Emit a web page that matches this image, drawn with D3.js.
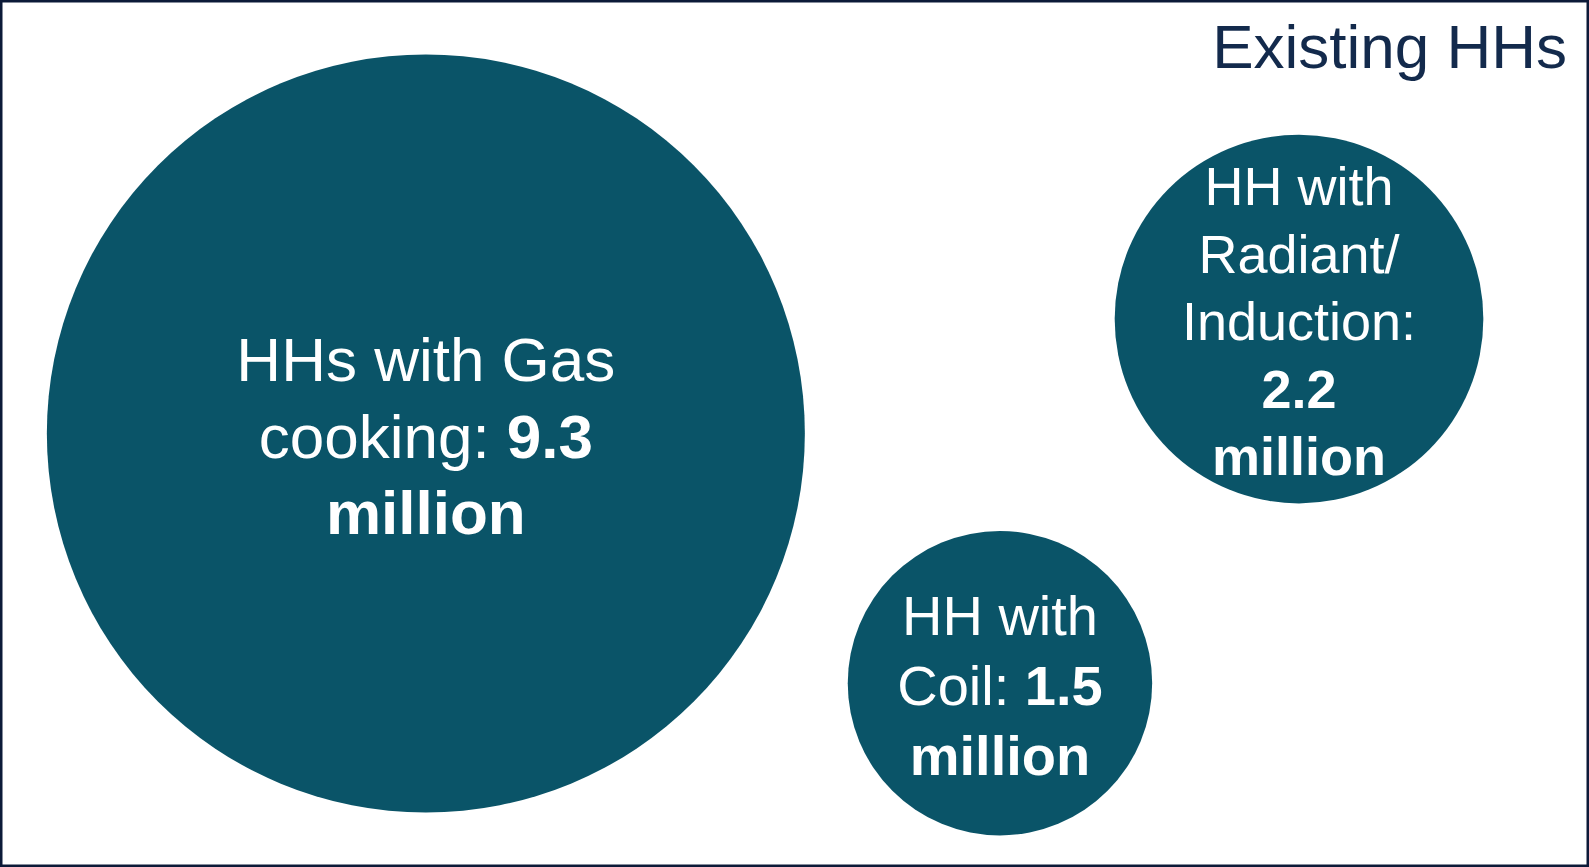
<!DOCTYPE html>
<html>
<head>
<meta charset="utf-8">
<script src="https://cdn.jsdelivr.net/npm/d3@7"></script>
<style>
  html, body { margin: 0; padding: 0; background: #ffffff; }
  svg { display: block; }
  text { font-family: "Liberation Sans", Arial, Helvetica, sans-serif; }
</style>
</head>
<body>
<div id="chart"></div>
<script>
// ---------- data ----------
const title = "Existing HHs";
const categories = ["HHs with Gas cooking:", "HH with Radiant/ Induction:", "HH with Coil:"];
const values = [9.3, 2.2, 1.5];
const unit = "million";

// ---------- layout (not data) ----------
const W = 1589, H = 867;
const lineWordCounts = [[3, 2, 1], [2, 1, 1, 1, 1], [2, 2, 1]];
const anchors = [[0.268, 0.5], [0.8175, 0.368], [0.6293, 0.788]]; // fractions of frame
const fontSizes = [62, 54, 56];
const lineHeights = [76.5, 67.5, 70];
const fillColor = "#0a5468";
const navy = "#132a4c";
const borderColor = "#0c1a38";

const svg = d3.select("#chart").append("svg")
  .attr("width", W).attr("height", H);

svg.append("rect")
  .attr("x", 1.25).attr("y", 1.25)
  .attr("width", W - 2.5).attr("height", H - 2.5)
  .attr("fill", "#ffffff")
  .attr("stroke", borderColor).attr("stroke-width", 2.5);

const x = d3.scaleLinear().domain([0, 1]).range([0, W]);
const y = d3.scaleLinear().domain([0, 1]).range([0, H]);
const r = d3.scaleSqrt().domain([0, d3.max(values)]).range([0, 379]);

const data = categories.map((c, i) => ({ cat: c, value: values[i], i }));

const g = svg.selectAll("g.bubble").data(data).join("g")
  .attr("class", "bubble")
  .attr("transform", d => `translate(${x(anchors[d.i][0])},${y(anchors[d.i][1])})`);

g.append("circle")
  .attr("r", d => r(d.value))
  .attr("fill", fillColor);

g.each(function(d) {
  const tokens = d.cat.split(" ").map(w => ({ t: w, bold: false }))
    .concat([{ t: d3.format(".1f")(d.value), bold: true }, { t: unit, bold: true }]);
  const counts = lineWordCounts[d.i];
  const lines = [];
  let k = 0;
  counts.forEach(n => { lines.push(tokens.slice(k, k + n)); k += n; });
  const fs = fontSizes[d.i], lh = lineHeights[d.i];
  const n = lines.length;
  const first = -(n - 1) / 2 * lh + fs * 0.716 / 2 + 2;
  const txt = d3.select(this).append("text")
    .attr("text-anchor", "middle")
    .attr("fill", "#ffffff")
    .attr("font-size", fs);
  lines.forEach((line, li) => {
    const t = txt.append("tspan").attr("x", 0).attr("y", first + li * lh);
    line.forEach((tok, ti) => {
      t.append("tspan")
        .attr("font-weight", tok.bold ? "bold" : "normal")
        .text((ti > 0 ? " " : "") + tok.t);
    });
  });
});

svg.append("text")
  .attr("x", 1567).attr("y", 67.5)
  .attr("text-anchor", "end")
  .attr("fill", navy)
  .attr("font-size", 62)
  .text(title);
</script>
</body>
</html>
